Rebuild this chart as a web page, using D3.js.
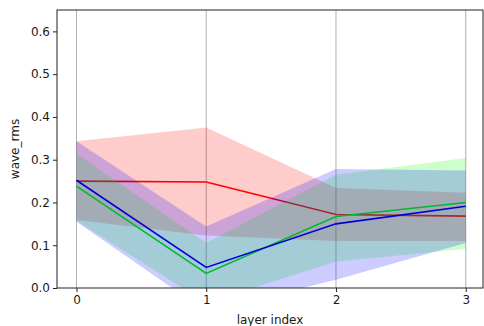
<!DOCTYPE html>
<meta charset="utf-8">
<style>
body { margin: 0; background: #fff; }
svg text { font-family: "DejaVu Sans", sans-serif; fill: #1a1a1a; }
.axis path, .axis line { stroke: #222; }
</style>
<body>
<svg width="484" height="326"></svg>
<script src="https://cdn.jsdelivr.net/npm/d3@7"></script>
<script>

var layers = [0, 1, 2, 3];
var yTicks = [0, 0.1, 0.2, 0.3, 0.4, 0.5, 0.6];

var redMean  = [0.250, 0.248, 0.172, 0.168],
    redLow   = [0.159, 0.123, 0.110, 0.110],
    redHigh  = [0.343, 0.375, 0.234, 0.223];

var greenMean = [0.238, 0.034, 0.167, 0.200],
    greenLow  = [0.157, -0.035, 0.062, 0.091],
    greenHigh = [0.314, 0.105, 0.265, 0.304];

var blueMean = [0.252, 0.048, 0.150, 0.191],
    blueLow  = [0.155, -0.055, 0.019, 0.105],
    blueHigh = [0.343, 0.144, 0.278, 0.275];

var series = [
  {line: "#ff0000", fill: "#ff0000", mean: redMean, low: redLow, high: redHigh},
  {line: "#00e000", fill: "#00ff00", mean: greenMean, low: greenLow, high: greenHigh},
  {line: "#0000d0", fill: "#0000ff", mean: blueMean, low: blueLow, high: blueHigh}
];

var svg = d3.select("svg"),
    margin = {top: 10, right: 1, bottom: 38, left: 57},
    width = +svg.attr("width") - margin.left - margin.right,
    height = +svg.attr("height") - margin.top - margin.bottom,
    g = svg.append("g").attr("transform", "translate(" + margin.left + "," + margin.top + ")");

var x = d3.scaleLinear().domain([-0.15, 3.133]).range([0, width]),
    y = d3.scaleLinear().domain([0, 0.65]).range([height, 0]);

g.append("clipPath").attr("id", "clip")
  .append("rect").attr("width", width).attr("height", height);

// vertical grid
g.append("g").selectAll("line")
  .data(layers)
  .enter().append("line")
    .attr("x1", function(d) { return x(d); })
    .attr("x2", function(d) { return x(d); })
    .attr("y1", 0).attr("y2", height)
    .attr("stroke", "#b0b0b0")
    .attr("stroke-width", 1);

var plot = g.append("g").attr("clip-path", "url(#clip)");

var line = d3.line()
    .x(function(d, i) { return x(layers[i]); })
    .y(function(d) { return y(d); });

series.forEach(function(s) {
  var area = d3.area()
      .x(function(d, i) { return x(layers[i]); })
      .y0(function(d, i) { return y(s.low[i]); })
      .y1(function(d, i) { return y(s.high[i]); });

  plot.append("path")
      .attr("d", line(s.mean))
      .attr("fill", "none")
      .attr("stroke", s.line)
      .attr("stroke-width", 1.6);

  plot.append("path")
      .attr("d", area(s.mean))
      .attr("fill", s.fill)
      .attr("fill-opacity", 0.2)
      .attr("stroke", "none");
});

// axes
g.append("g")
    .attr("class", "axis")
    .attr("transform", "translate(0," + height + ")")
    .call(d3.axisBottom(x).tickValues(layers).tickFormat(d3.format("d")).tickSize(4).tickPadding(3));

g.append("g")
    .attr("class", "axis")
    .call(d3.axisLeft(y).tickValues(yTicks).tickFormat(d3.format(".1f")).tickSize(4).tickPadding(3));

g.selectAll(".axis text").style("font-size", "12px");
g.selectAll(".axis .domain").remove();

// frame
g.append("rect")
    .attr("width", width).attr("height", height)
    .attr("fill", "none")
    .attr("stroke", "#222")
    .attr("stroke-width", 1);

svg.append("text")
    .attr("x", margin.left + width / 2)
    .attr("y", 324)
    .attr("text-anchor", "middle")
    .style("font-size", "12px")
    .text("layer index");

svg.append("text")
    .attr("transform", "translate(19," + (margin.top + height / 2) + ") rotate(-90)")
    .attr("text-anchor", "middle")
    .style("font-size", "12px")
    .text("wave_rms");

</script>
</body>
